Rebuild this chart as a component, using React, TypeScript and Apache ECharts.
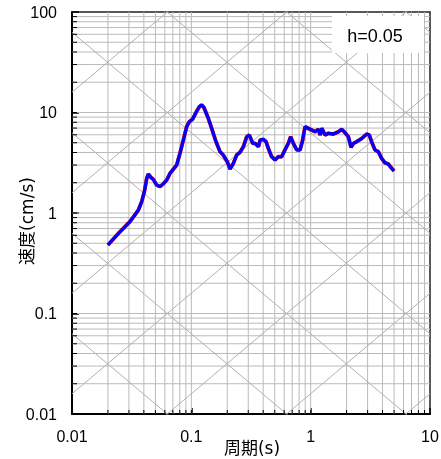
import React, { useEffect, useRef } from "react";
import * as echarts from "echarts";

// Velocity response spectrum (h = 0.05)
const periods = [
  0.02, 0.0252, 0.0306, 0.036, 0.0384, 0.0404, 0.0423, 0.0436, 0.0457, 0.048,
  0.0512, 0.0546, 0.0582, 0.0622, 0.0663, 0.0698, 0.0754, 0.0803, 0.0857, 0.0914,
  0.0962, 0.1026, 0.1094, 0.1167, 0.122, 0.1276, 0.1387, 0.148, 0.161, 0.174,
  0.185, 0.2, 0.211, 0.225, 0.24, 0.256, 0.273, 0.291, 0.306, 0.327,
  0.342, 0.365, 0.377, 0.401, 0.423, 0.442, 0.471, 0.502, 0.536, 0.571,
  0.609, 0.65, 0.68, 0.716, 0.764, 0.815, 0.857, 0.897, 0.956, 1.02,
  1.09, 1.16, 1.2, 1.24, 1.32, 1.41, 1.55, 1.71, 1.82, 1.94,
  2.07, 2.18, 2.28, 2.43, 2.67, 2.94, 3.1, 3.24, 3.46, 3.69,
  3.93, 4.19, 4.47, 4.77, 5.0,
];
const velocity = [
  0.48, 0.65, 0.82, 1.07, 1.3, 1.63, 2.21, 2.44, 2.27, 2.16,
  1.9, 1.83, 1.95, 2.13, 2.48, 2.68, 3.0, 3.93, 5.32, 7.22,
  8.1, 8.6, 10.0, 11.4, 11.9, 11.2, 8.75, 6.96, 5.12, 4.07,
  3.78, 3.24, 2.74, 3.12, 3.78, 4.02, 4.57, 5.74, 5.97, 4.93,
  4.93, 4.57, 5.32, 5.41, 5.12, 4.39, 3.63, 3.37, 3.63, 3.63,
  4.24, 4.93, 5.74, 4.93, 4.24, 4.24, 5.32, 7.22, 6.96, 6.7,
  6.44, 6.8, 5.97, 6.96, 5.97, 6.21, 6.1, 6.44, 6.8, 6.3,
  5.74, 4.5, 4.93, 5.12, 5.5, 6.1, 5.97, 5.12, 4.24, 4.07,
  3.5, 3.16, 3.07, 2.79, 2.62,
];

const xDecades = [0.01, 0.1, 1, 10];
const yDecades = [0.01, 0.1, 1, 10, 100];
const multipliers = [1, 2, 3, 4, 5, 6, 7, 8, 9];
// Tripartite diagonals: displacement (cm) and acceleration (cm/s^2) levels
const dispLevels = [1e-6, 1e-5, 1e-4, 1e-3, 1e-2, 1e-1, 1, 10, 100, 1000];
const accLevels = [1e-3, 1e-2, 1e-1, 1, 10, 100, 1000, 1e4, 1e5, 1e6];

const dampingLabel = "h=0.05";
const xName = "周期(s)";
const yName = "速度(cm/s)";

const X_MIN = 0.01, X_MAX = 10, Y_MIN = 0.01, Y_MAX = 100;

function fmt(v: number) {
  return String(Number(Number(v).toPrecision(6)));
}

export default function App() {
  const ref = useRef<HTMLDivElement>(null);
  useEffect(() => {
    if (!ref.current) return;
    const chart = echarts.init(ref.current, null, { renderer: "svg" });

    const xGridVals: number[] = [];
    xDecades.slice(0, -1).forEach((d) => multipliers.forEach((m) => xGridVals.push(m * d)));
    const yGridVals: number[] = [];
    yDecades.slice(0, -1).forEach((d) => multipliers.forEach((m) => yGridVals.push(m * d)));

    const vData: any[] = [];
    xGridVals.filter((v) => v > X_MIN * 1.0001).forEach((v) => {
      vData.push([v, Y_MIN], [v, Y_MAX], [v, null]);
    });
    const hData: any[] = [];
    yGridVals.filter((v) => v > Y_MIN * 1.0001).forEach((v) => {
      hData.push([X_MIN, v], [X_MAX, v], [X_MIN, null]);
    });
    const dData: any[] = [];
    dispLevels.forEach((sd) => {
      dData.push([X_MIN, (2 * Math.PI * sd) / X_MIN], [X_MAX, (2 * Math.PI * sd) / X_MAX], [X_MIN, null]);
    });
    accLevels.forEach((sa) => {
      dData.push([X_MIN, (sa * X_MIN) / (2 * Math.PI)], [X_MAX, (sa * X_MAX) / (2 * Math.PI)], [X_MIN, null]);
    });
    const tData: any[] = [];
    const leftLen = Math.pow(10, 5 / 119.3);
    const botLen = Math.pow(10, 4 / 100.5);
    yGridVals.forEach((v) => tData.push([X_MIN, v], [X_MIN * leftLen, v], [X_MIN, null]));
    xGridVals.forEach((v) => tData.push([v, Y_MIN], [v, Y_MIN * botLen], [v, null]));

    const spectrum = periods.map((t, i) => [t, velocity[i]]);

    const bg = (data: any[], color: string, width: number, z: number) => ({
      type: "line",
      data,
      symbol: "none",
      silent: true,
      connectNulls: false,
      clip: true,
      z,
      lineStyle: { color, width },
      emphasis: { disabled: true },
    });

    chart.setOption({
      animation: false,
      grid: {
        left: 72,
        right: 11,
        top: 12,
        bottom: 45,
        show: true,
        borderColor: "#222",
        borderWidth: 1.5,
        backgroundColor: "#fff",
        containLabel: false,
        outerBoundsMode: "none",
      },
      xAxis: {
        type: "log",
        logBase: 10,
        min: X_MIN,
        max: X_MAX,
        axisLine: { show: true, onZero: false, lineStyle: { color: "#000", width: 2 } },
        axisTick: { show: true, inside: true, length: 6, lineStyle: { color: "#000", width: 1.5 } },
        minorTick: { show: false },
        splitLine: { show: false },
        axisLabel: {
          margin: 14,
          fontSize: 16,
          color: "#000",
          fontFamily: "Liberation Sans, Arial, sans-serif",
          formatter: (v: number) => fmt(v),
        },
      },
      yAxis: {
        type: "log",
        logBase: 10,
        min: Y_MIN,
        max: Y_MAX,
        axisLine: { show: true, onZero: false, lineStyle: { color: "#000", width: 2 } },
        axisTick: { show: true, inside: true, length: 7, lineStyle: { color: "#000", width: 1.5 } },
        minorTick: { show: false },
        splitLine: { show: false },
        axisLabel: {
          margin: 15,
          fontSize: 16,
          color: "#000",
          fontFamily: "Liberation Sans, Arial, sans-serif",
          formatter: (v: number) => fmt(v),
        },
      },
      series: [
        bg(vData, "#bababa", 1, 1),
        bg(hData, "#bababa", 1, 1),
        bg(dData, "#b0b0b0", 1, 1),
        bg(tData, "#000", 1, 3),
        {
          type: "line",
          data: spectrum,
          symbol: "none",
          silent: true,
          z: 4,
          lineStyle: { color: "#ff0000", width: 3.8 },
        },
        {
          type: "line",
          data: spectrum,
          symbol: "none",
          silent: true,
          z: 5,
          lineStyle: { color: "#0000ff", width: 3.2 },
        },
      ],
      graphic: [
        {
          type: "rect",
          z: 100,
          shape: { x: 332, y: 16, width: 92, height: 37 },
          style: { fill: "#fff" },
        },
        {
          type: "text",
          z: 101,
          x: 375,
          y: 36,
          style: {
            text: dampingLabel,
            fontSize: 18,
            fill: "#000",
            fontFamily: "Liberation Sans, Arial, sans-serif",
            align: "center",
            verticalAlign: "middle",
          },
        },
        {
          type: "text",
          z: 101,
          x: 252,
          y: 448,
          style: {
            text: xName,
            fontSize: 17,
            fill: "#000",
            fontFamily: "DejaVu Sans, Noto Sans CJK JP, sans-serif",
            align: "center",
            verticalAlign: "middle",
          },
        },
        {
          type: "text",
          z: 101,
          x: 27,
          y: 221,
          rotation: Math.PI / 2,
          style: {
            text: yName,
            fontSize: 17,
            fill: "#000",
            fontFamily: "DejaVu Sans, Noto Sans CJK JP, sans-serif",
            align: "center",
            verticalAlign: "middle",
          },
        },
      ],
    });
    return () => chart.dispose();
  }, []);
  return (
    <div
      ref={ref}
      style={{ position: "fixed", left: 0, top: 0, width: 441, height: 459 }}
    />
  );
}
